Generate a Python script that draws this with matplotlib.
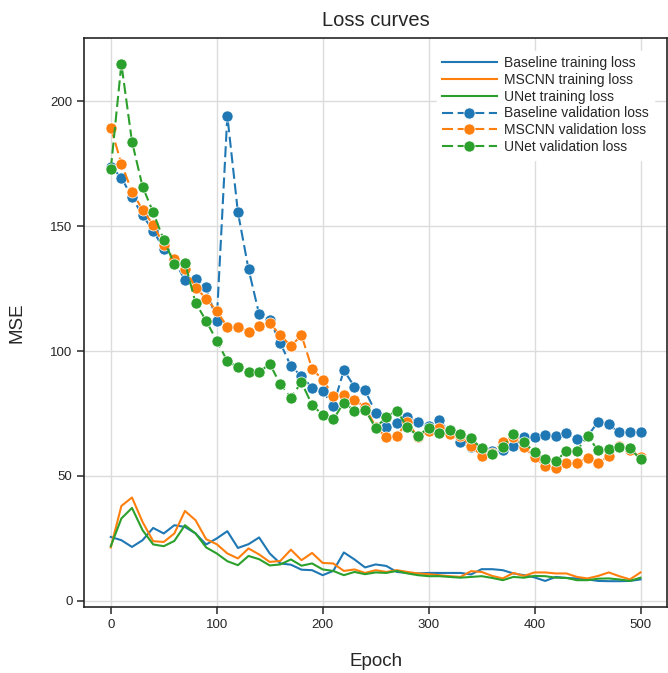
import numpy as np
import matplotlib
matplotlib.use("Agg")
import matplotlib.pyplot as plt

# -------------------------------------------------
# LOSS HISTORY (sampled every 10 epochs)
# -------------------------------------------------

epochs = np.arange(0, 501, 10)

baseline_train = [25.6, 24.3, 21.6, 24.3, 29.2, 27.0, 30.3, 29.6, 27.0, 22.6,
                  25.0, 27.9, 21.2, 22.7, 25.4, 19.0, 15.0, 14.5, 12.5, 12.3,
                  10.3, 12.0, 19.4, 16.6, 13.4, 14.6, 14.0, 11.6, 11.2, 11.0,
                  11.2, 11.2, 11.2, 11.2, 10.6, 12.7, 12.7, 12.3, 11.0, 10.3,
                  9.4, 8.0, 9.6, 9.2, 9.0, 8.6, 8.0, 7.9, 7.9, 8.0,
                  8.6]
mscnn_train = [21.4, 38.0, 41.4, 31.6, 23.9, 23.6, 27.0, 36.0, 32.3, 24.7,
               22.7, 19.0, 17.0, 21.0, 18.6, 15.6, 16.0, 20.5, 16.3, 19.2,
               15.2, 15.0, 12.0, 12.6, 11.2, 12.3, 11.6, 12.3, 11.6, 11.0,
               10.7, 10.3, 9.9, 9.6, 11.9, 11.6, 10.0, 9.0, 11.2, 10.0,
               11.4, 11.4, 11.0, 11.0, 9.6, 9.0, 10.0, 11.4, 9.9, 8.6,
               11.4]
unet_train = [21.9, 33.0, 37.2, 28.3, 22.6, 21.9, 24.0, 30.3, 27.0, 21.4,
              19.0, 15.9, 14.3, 18.0, 16.7, 14.2, 14.6, 16.6, 14.1, 15.0,
              12.6, 12.0, 10.3, 11.6, 10.7, 11.4, 11.2, 12.0, 11.0, 10.3,
              9.9, 9.9, 9.6, 9.3, 9.6, 9.9, 9.2, 8.3, 9.6, 9.3,
              10.0, 9.9, 9.3, 9.2, 8.3, 8.3, 8.9, 9.0, 8.6, 8.0,
              9.3]

baseline_val = [173.8, 169.4, 161.5, 154.3, 148.2, 140.8, 136.3, 128.4, 128.9, 125.5,
                112.1, 194.1, 155.5, 132.8, 114.8, 112.4, 103.3, 93.9, 90.0, 85.3,
                83.9, 78.1, 92.3, 85.7, 84.3, 75.3, 69.5, 71.0, 73.4, 71.4,
                69.9, 72.2, 67.5, 63.4, 61.5, 60.0, 59.8, 60.2, 61.8, 65.4,
                65.5, 66.5, 65.8, 67.1, 64.9, 66.0, 71.6, 70.6, 67.4, 67.7,
                67.4]
mscnn_val = [189.4, 175.0, 163.8, 156.5, 150.5, 142.5, 136.7, 133.0, 125.4, 121.0,
             116.0, 109.7, 109.7, 107.7, 110.2, 111.2, 106.4, 102.0, 106.3, 92.9,
             88.5, 82.2, 82.6, 80.5, 77.5, 69.7, 65.4, 66.1, 71.7, 65.4,
             68.1, 69.0, 66.8, 66.0, 62.1, 58.1, 59.0, 63.7, 65.7, 61.6,
             57.5, 54.0, 53.0, 55.0, 55.3, 57.2, 55.3, 57.8, 62.1, 60.4,
             57.5]
unet_val = [172.8, 214.9, 183.8, 165.8, 155.5, 144.5, 134.8, 135.4, 119.3, 112.1,
            104.1, 96.0, 93.5, 91.5, 91.5, 94.9, 86.7, 81.4, 87.5, 78.4,
            74.5, 72.6, 79.4, 76.1, 76.6, 69.1, 73.7, 76.1, 69.4, 66.0,
            69.3, 67.0, 68.4, 66.6, 65.0, 61.0, 58.8, 61.7, 66.8, 63.6,
            59.4, 56.6, 55.8, 60.1, 60.1, 66.0, 60.2, 60.9, 61.6, 61.2,
            56.6]

models = ["Baseline", "MSCNN", "UNet"]
train_losses = [baseline_train, mscnn_train, unet_train]
val_losses = [baseline_val, mscnn_val, unet_val]
colors = ["#1f77b4", "#ff7f0e", "#2ca02c"]

# -------------------------------------------------
# STYLE
# -------------------------------------------------

plt.rcParams["font.family"] = ["Liberation Sans", "DejaVu Sans"]
plt.rcParams["text.color"] = "#262626"
plt.rcParams["axes.labelcolor"] = "#262626"
plt.rcParams["xtick.color"] = "#262626"
plt.rcParams["ytick.color"] = "#262626"

fig = plt.figure(figsize=(6.68, 6.73), dpi=100)
ax = fig.add_axes([0.1262, 0.098, 0.8723, 0.8455])

for name, loss, c in zip(models, train_losses, colors):
    ax.plot(epochs, loss, color=c, lw=1.5, label=f"{name} training loss")

for name, loss, c in zip(models, val_losses, colors):
    ax.plot(epochs, loss, color=c, lw=1.5, ls="--", dashes=(5.3, 2.2),
            marker="o", ms=8, mec="white", mew=0.5,
            label=f"{name} validation loss")

ax.set_title("Loss curves", fontsize=14.5, pad=9)
ax.set_xlabel("Epoch", fontsize=13.5, labelpad=16)
ax.set_ylabel("MSE", fontsize=13.5, labelpad=18)
ax.tick_params(labelsize=9.5, length=5, width=1.1, direction="out")
ax.set_xticks([0, 100, 200, 300, 400, 500])
ax.set_yticks([0, 50, 100, 150, 200])
ax.grid(True, color="#dcdcdc", lw=1)
ax.set_axisbelow(True)
for s in ax.spines.values():
    s.set_color("#262626")
    s.set_linewidth(1.2)

leg = ax.legend(loc="upper right", fontsize=10, frameon=True, framealpha=1,
                edgecolor="white", handlelength=3.9, handletextpad=0.55,
                labelspacing=0.2, borderaxespad=0.9)

fig.savefig("out.png", dpi=100)
